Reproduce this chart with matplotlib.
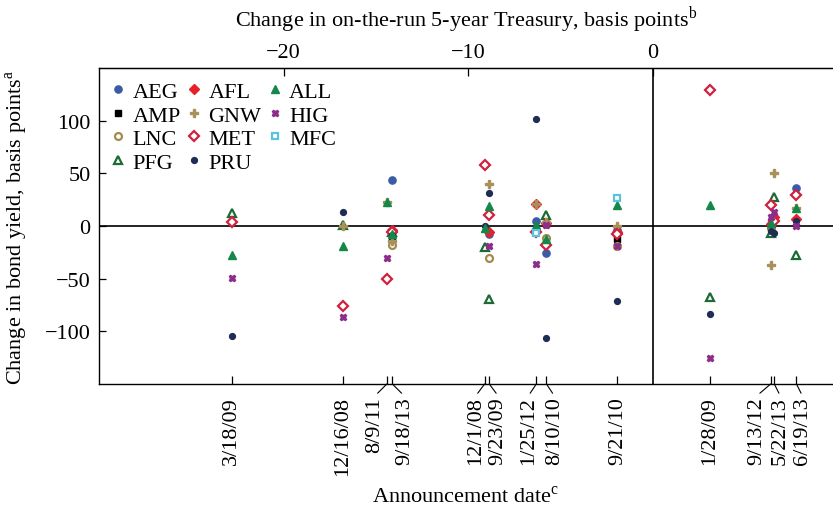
import numpy as np
import matplotlib
matplotlib.use("Agg")
import matplotlib.pyplot as plt

plt.rcParams['font.family'] = ['Liberation Serif', 'DejaVu Serif']
plt.rcParams['mathtext.fontset'] = 'custom'
plt.rcParams['mathtext.rm'] = 'Liberation Serif'
plt.rcParams['axes.unicode_minus'] = True

nan = np.nan

# announcement dates and change in the 5-year Treasury (bp) on each
dates = ["3/18/09", "12/16/08", "8/9/11", "9/18/13", "12/1/08", "9/23/09",
         "1/25/12", "8/10/10", "9/21/10", "1/28/09", "9/13/12", "5/22/13", "6/19/13"]
treasury = [-22.8, -16.8, -14.4, -14.1, -9.1, -8.85, -6.3, -5.75, -1.9, 3.1, 6.4, 6.6, 7.8]

# change in bond yield (bp) by insurer, one value per date
AEG = [nan, nan, nan, 44, nan, -8, 5, -26, -4, nan, 0, nan, 36]
AMP = [nan, nan, nan, -12, nan, nan, nan, nan, -12, nan, nan, nan, nan]
LNC = [nan, nan, nan, -18, nan, -30, nan, -11, -19, nan, -2, nan, nan]
PFG = [12, 1, nan, -6, -20, -69, nan, 10, nan, -67, -7, 28, -28]
AFL = [nan, nan, nan, -4, nan, -6, 21, 3, -6, nan, 2, 9, 7]
GNW = [nan, 0, 23, -14, nan, 40, 21, 4, 0, nan, -37, 50, 17]
MET = [4, -76, -50, -6, 58, 10, -6, -18, -8, 129, 20, 5, 29]
PRU = [-104, 13, nan, -9, 0, 31, 102, -106, -71, -84, -5, -7, 5]
ALL = [-28, -19, 23, -8, -2, 19, 1, -12, 20, 20, 3, nan, 17]
HIG = [-49, -86, -30, nan, nan, -19, -36, 1, -19, -125, 9, 13, 0]
MFC = [nan, nan, nan, nan, nan, nan, -7, nan, 27, nan, nan, nan, nan]

# legend order (column-major for ncol=3)
series = [
    ("AEG", AEG, dict(marker='o', color='#3a5ca8', ms=5.2)),
    ("AMP", AMP, dict(marker='s', color='black', ms=4.5)),
    ("LNC", LNC, dict(marker='o', mfc='white', mec='#a38b4d', mew=1.6, ms=5)),
    ("PFG", PFG, dict(marker='^', mfc='white', mec='#1d6a35', mew=1.6, ms=5.5)),
    ("AFL", AFL, dict(marker='D', color='#e8202a', ms=5)),
    ("GNW", GNW, dict(marker='P', color='#a8915a', ms=5.5)),
    ("MET", MET, dict(marker='D', mfc='white', mec='#d0213d', mew=1.6, ms=5)),
    ("PRU", PRU, dict(marker='o', color='#1f2c56', ms=4.2)),
    ("ALL", ALL, dict(marker='^', color='#13884a', ms=6)),
    ("HIG", HIG, dict(marker='X', color='#8b2d8b', ms=5)),
    ("MFC", MFC, dict(marker='s', mfc='white', mec='#5bc4dc', mew=1.6, ms=5)),
]

# horizontal pixel offsets of the rotated date labels (leader lines)
label_dx = [0, 0, -12, 12, -9, 9, -8, 8, 0, 0, -14, 6, 6]

FS = 16

fig = plt.figure(figsize=(8.33, 5.10), dpi=100)
ax = fig.add_axes([99 / 833, 1 - 385 / 510, 1 - 99 / 833, (385 - 69) / 510])

ax.axhline(0, color='black', lw=1.2, zorder=1)
ax.axvline(0, color='black', lw=1.2, zorder=1)

handles = []
for name, vals, style in series:
    h, = ax.plot(treasury, vals, linestyle='none', label=name, zorder=3, **style)
    handles.append(h)

ax.set_xlim(-30, 9.78)
ax.set_ylim(-150, 150)
ax.spines['right'].set_visible(False)
for sp in ax.spines.values():
    sp.set_linewidth(1.0)

ax.set_yticks([-100, -50, 0, 50, 100])
ax.tick_params(axis='y', direction='in', length=5, width=0.9, labelsize=FS, pad=6)
ax.set_xticks(treasury)
ax.set_xticklabels([])
ax.tick_params(axis='x', direction='in', length=6, width=0.9)

top = ax.secondary_xaxis('top')
top.set_xticks([-20, -10, 0])
top.tick_params(direction='in', length=6, width=0.9, labelsize=FS, pad=4)

for d, x, dx in zip(dates, treasury, label_dx):
    arrow = dict(arrowstyle='-', lw=0.8, color='black', shrinkA=0, shrinkB=0,
                 relpos=(0.5, 1.0)) if dx else None
    ax.annotate(d, xy=(x, 0), xycoords=('data', 'axes fraction'),
                xytext=(dx, -12), textcoords='offset pixels',
                rotation=90, ha='center', va='top', fontsize=FS,
                arrowprops=arrow, annotation_clip=False)

ax.legend(handles=handles, ncol=3, loc='upper left', frameon=False, fontsize=FS,
          handlelength=0.5, handletextpad=0.4, columnspacing=0.35,
          labelspacing=0.14, borderaxespad=0.2, bbox_to_anchor=(0.0, 1.0))

fig.text(466 / 833, 1 - 20 / 510, "Change in on-the-run 5-year Treasury, basis points$^{\\mathrm{b}}$",
         ha='center', va='center', fontsize=FS)
fig.text(466 / 833, 1 - 497 / 510, "Announcement date$^{\\mathrm{c}}$",
         ha='center', va='center', fontsize=FS)
fig.text(17 / 833, 1 - 227 / 510, "Change in bond yield, basis points$^{\\mathrm{a}}$",
         ha='center', va='center', rotation=90, fontsize=FS)

fig.savefig("out.png", dpi=100)
